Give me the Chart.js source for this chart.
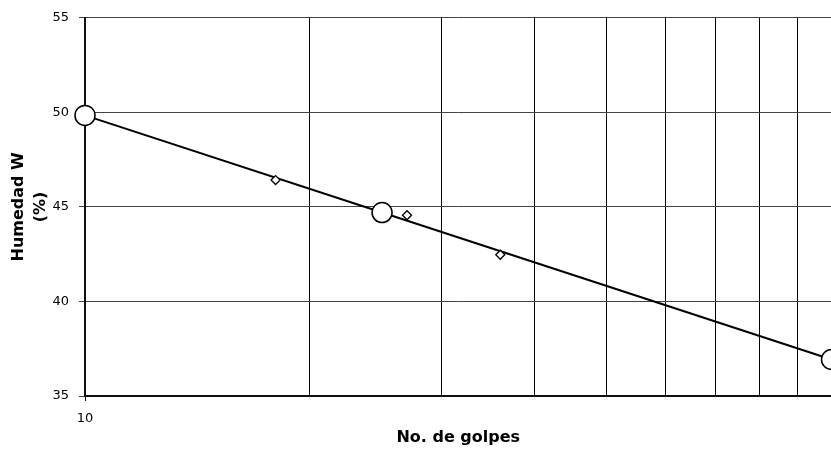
<!DOCTYPE html>
<html lang="es">
<head>
  <meta charset="UTF-8">
  <title>Limite liquido - No. de golpes</title>
  <script src="https://cdn.jsdelivr.net/npm/chart.js"></script>
  <style>
    html, body { margin: 0; padding: 0; background: #fff; overflow: hidden; }
    /* the plot runs a little past the right edge, like the original export */
    .chart-box { width: 831px; height: 449px; overflow: hidden; }
  </style>
</head>
<body>
  <div class="chart-box">
    <canvas id="golpes-chart" width="843" height="449"></canvas>
  </div>
  <script>
    // fitted line (circles)
    const lineGolpes = [10, 25, 100];
    const lineHumedad = [49.84, 44.7, 36.93];
    // lab samples (diamonds)
    const muestraGolpes = [18, 27, 36];
    const muestraHumedad = [46.42, 44.56, 42.47];
    // x grid positions
    const xTicks = [10, 20, 30, 40, 50, 60, 70, 80, 90, 100];

    const toPoints = (xs, ys) => xs.map((x, i) => ({ x: x, y: ys[i] }));
    const tickFont = { family: 'DejaVu Sans', size: 13 };
    const titleFont = { family: 'DejaVu Sans', size: 16, weight: 'bold', lineHeight: 1.35 };

    new Chart(document.getElementById('golpes-chart'), {
      type: 'scatter',
      data: {
        datasets: [
          {
            data: toPoints(muestraGolpes, muestraHumedad),
            pointStyle: 'rectRot',
            pointRadius: 4.5,
            pointBorderWidth: 1.3,
            borderColor: '#000',
            backgroundColor: '#fff',
            showLine: false
          },
          {
            data: toPoints(lineGolpes, lineHumedad),
            showLine: true,
            borderColor: '#000',
            borderWidth: 2,
            pointStyle: 'circle',
            pointRadius: 10,
            pointBorderWidth: 1.5,
            backgroundColor: '#fff',
            clip: false
          }
        ]
      },
      options: {
        responsive: false,
        animation: false,
        layout: { padding: { top: 16, right: 0, left: 0, bottom: 0 } },
        plugins: { legend: { display: false }, tooltip: { enabled: false } },
        scales: {
          x: {
            type: 'logarithmic',
            min: 10,
            max: 100,
            afterBuildTicks: (axis) => { axis.ticks = xTicks.map(v => ({ value: v })); },
            afterFit: (axis) => { axis.height = 53; },
            ticks: {
              autoSkip: false,
              maxRotation: 0,
              color: '#000',
              font: tickFont,
              padding: 10,
              callback: (v) => v === 10 ? '10' : ''
            },
            grid: {
              color: '#000',
              lineWidth: 1,
              tickLength: 5,
              tickColor: (ctx) => ctx.tick && ctx.tick.value === 10 ? '#000' : 'rgba(0,0,0,0)'
            },
            border: { color: '#111', width: 2 },
            title: {
              display: true,
              text: 'No. de golpes',
              color: '#000',
              font: { family: 'DejaVu Sans', size: 16, weight: 'bold' },
              padding: { top: 0, bottom: 1.5 }
            }
          },
          y: {
            min: 35,
            max: 55,
            afterFit: (axis) => { axis.width = 85; },
            ticks: { stepSize: 5, color: '#000', font: tickFont, padding: 10 },
            grid: { color: '#444', lineWidth: 1, tickLength: 6, tickColor: '#444' },
            border: { color: '#111', width: 2 },
            title: {
              display: true,
              text: ['Humedad W', '(%)'],
              color: '#000',
              font: titleFont,
              padding: { top: 8, bottom: 0 }
            }
          }
        }
      }
    });
  </script>
</body>
</html>
